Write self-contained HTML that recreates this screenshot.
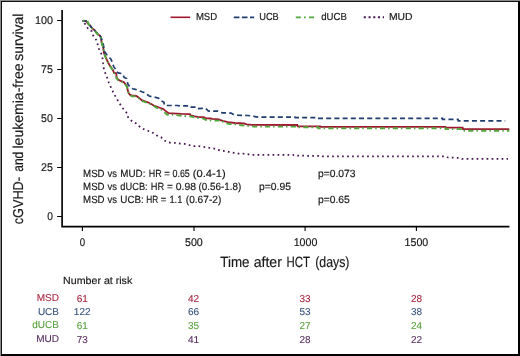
<!DOCTYPE html>
<html><head><meta charset="utf-8"><style>
html,body{margin:0;padding:0;background:#fff;font-family:"Liberation Sans",sans-serif;}
.frame{position:relative;width:520px;height:356px;box-sizing:border-box;overflow:hidden;background:#fff;}
.frame svg{position:absolute;left:0;top:0;will-change:transform;text-rendering:geometricPrecision;}
</style></head><body><div class="frame">
<svg width="520" height="356" viewBox="0 0 520 356" font-family="'Liberation Sans', sans-serif">
<rect x="0" y="0" width="520" height="356" fill="#fff"/>
<path d="M62.1,10.1 V226.6 H509.4" fill="none" stroke="#000" stroke-width="1.65"/>
<line x1="57.2" y1="20.5" x2="62" y2="20.5" stroke="#000" stroke-width="1.0"/>
<line x1="57.2" y1="69.5" x2="62" y2="69.5" stroke="#000" stroke-width="1.0"/>
<line x1="57.2" y1="118.5" x2="62" y2="118.5" stroke="#000" stroke-width="1.0"/>
<line x1="57.2" y1="167.5" x2="62" y2="167.5" stroke="#000" stroke-width="1.0"/>
<line x1="57.2" y1="216.5" x2="62" y2="216.5" stroke="#000" stroke-width="1.0"/>
<line x1="82.4" y1="226.6" x2="82.4" y2="230.9" stroke="#000" stroke-width="1.1"/>
<line x1="194.0" y1="226.6" x2="194.0" y2="230.9" stroke="#000" stroke-width="1.1"/>
<line x1="305.1" y1="226.6" x2="305.1" y2="230.9" stroke="#000" stroke-width="1.1"/>
<line x1="416.4" y1="226.6" x2="416.4" y2="230.9" stroke="#000" stroke-width="1.1"/>
<text x="35.00" y="24.05" font-size="11.2" fill="#1a1a1a" stroke="#1a1a1a" stroke-width="0.18" textLength="17.91" lengthAdjust="spacingAndGlyphs">100</text>
<text x="41.10" y="73.05" font-size="11.2" fill="#1a1a1a" stroke="#1a1a1a" stroke-width="0.18" textLength="11.80" lengthAdjust="spacingAndGlyphs">75</text>
<text x="41.10" y="122.05" font-size="11.2" fill="#1a1a1a" stroke="#1a1a1a" stroke-width="0.18" textLength="11.80" lengthAdjust="spacingAndGlyphs">50</text>
<text x="41.00" y="171.05" font-size="11.2" fill="#1a1a1a" stroke="#1a1a1a" stroke-width="0.18" textLength="11.90" lengthAdjust="spacingAndGlyphs">25</text>
<text x="47.20" y="220.05" font-size="11.2" fill="#1a1a1a" stroke="#1a1a1a" stroke-width="0.18" textLength="5.70" lengthAdjust="spacingAndGlyphs">0</text>
<text x="79.80" y="245.9" font-size="11.2" fill="#1a1a1a" stroke="#1a1a1a" stroke-width="0.18" textLength="5.40" lengthAdjust="spacingAndGlyphs">0</text>
<text x="185.00" y="245.9" font-size="11.2" fill="#1a1a1a" stroke="#1a1a1a" stroke-width="0.18" textLength="17.81" lengthAdjust="spacingAndGlyphs">500</text>
<text x="293.70" y="245.9" font-size="11.2" fill="#1a1a1a" stroke="#1a1a1a" stroke-width="0.18" textLength="23.70" lengthAdjust="spacingAndGlyphs">1000</text>
<text x="404.60" y="245.9" font-size="11.2" fill="#1a1a1a" stroke="#1a1a1a" stroke-width="0.18" textLength="23.70" lengthAdjust="spacingAndGlyphs">1500</text>
<text x="220.30" y="266.8" font-size="14.8" fill="#1a1a1a" stroke="#1a1a1a" stroke-width="0.18" textLength="29.20" lengthAdjust="spacingAndGlyphs">Time</text>
<text x="253.70" y="266.8" font-size="14.8" fill="#1a1a1a" stroke="#1a1a1a" stroke-width="0.18" textLength="28.20" lengthAdjust="spacingAndGlyphs">after</text>
<text x="286.50" y="266.8" font-size="14.8" fill="#1a1a1a" stroke="#1a1a1a" stroke-width="0.18" textLength="23.50" lengthAdjust="spacingAndGlyphs">HCT</text>
<text x="315.20" y="266.8" font-size="14.8" fill="#1a1a1a" stroke="#1a1a1a" stroke-width="0.18" textLength="34.30" lengthAdjust="spacingAndGlyphs">(days)</text>
<g transform="translate(23.1,224.5) rotate(-90)"><text x="0.20" y="0" font-size="14.3" fill="#1a1a1a" stroke="#1a1a1a" stroke-width="0.18" textLength="47.30" lengthAdjust="spacingAndGlyphs">cGVHD-</text><text x="52.70" y="0" font-size="14.3" fill="#1a1a1a" stroke="#1a1a1a" stroke-width="0.18" textLength="20.11" lengthAdjust="spacingAndGlyphs">and</text><text x="76.00" y="0" font-size="14.3" fill="#1a1a1a" stroke="#1a1a1a" stroke-width="0.18" textLength="85.00" lengthAdjust="spacingAndGlyphs">leukemia-free</text><text x="163.70" y="0" font-size="14.3" fill="#1a1a1a" stroke="#1a1a1a" stroke-width="0.18" textLength="47.20" lengthAdjust="spacingAndGlyphs">survival</text></g>
<polyline points="82.5,20.8 86.0,20.8 88.0,23.7 90.0,25.4 92.1,28.1 94.5,30.1 96.2,32.5 97.9,34.2 100.2,35.8 100.9,38.0 101.8,43.6 103.1,46.5 103.5,49.5 103.9,52.8 105.2,56.2 106.4,58.7 107.7,61.8 109.8,65.6 111.9,68.5 113.2,70.6 114.0,72.7 116.3,73.4 116.6,77.8 118.6,79.9 121.2,81.2 123.7,82.0 125.4,84.1 127.1,86.6 127.5,89.3 128.5,92.6 129.8,94.7 132.3,95.6 135.3,95.6 137.0,96.4 139.5,98.1 141.6,100.2 144.5,101.1 147.9,102.3 151.3,104.0 154.5,105.9 157.9,107.2 160.4,108.0 163.0,108.8 164.6,110.1 166.3,111.4 167.6,112.6 168.4,113.1 181.5,113.9 190.0,114.2 190.8,115.4 193.8,116.2 198.5,117.1 203.8,117.1 205.4,118.1 210.8,118.5 212.3,118.8 219.0,119.3 220.5,120.2 222.7,120.9 228.0,122.2 234.8,123.0 244.2,123.5 246.5,124.4 252.3,124.9 297.3,125.0 297.6,126.3 320.2,126.3 320.5,126.8 445.4,126.8 445.7,127.7 462.7,127.7 463.0,129.1 509.3,129.1" fill="none" stroke="#9e1830" stroke-width="1.8"/>
<polyline points="82.5,20.8 86.0,21.0 88.0,23.7 90.0,25.6 92.1,28.1 94.5,30.1 96.2,32.5 98.2,33.5 100.5,36.4 101.5,38.5 103.5,45.3 103.9,48.6 104.3,51.2 106.4,54.1 107.7,56.2 110.6,58.7 111.5,60.4 112.7,63.9 113.6,66.4 115.7,69.4 116.5,71.9 119.0,73.2 122.4,73.6 124.1,77.4 126.6,78.6 127.5,82.4 128.1,84.6 130.6,87.6 132.7,88.8 135.3,89.3 138.6,90.5 142.0,91.8 144.5,92.6 147.5,94.7 149.2,96.0 152.1,96.8 154.5,97.1 158.7,98.3 160.4,100.4 163.8,102.1 164.6,105.5 177.3,105.5 180.0,105.8 190.5,105.8 191.2,107.1 196.8,107.1 197.7,108.6 205.8,108.4 207.8,110.6 209.0,111.2 217.8,111.2 219.5,112.2 222.6,112.8 231.1,113.1 233.4,114.4 237.2,115.2 247.2,115.5 252.6,115.9 254.9,116.7 258.0,117.1 295.0,117.1 295.3,117.6 316.5,117.6 316.8,118.4 442.5,118.4 442.8,119.4 458.0,119.4 458.3,120.8 505.2,120.8" fill="none" stroke="#1f3d6e" stroke-width="1.7" stroke-dasharray="5,3.2" stroke-dashoffset="0.65"/>
<polyline points="82.5,20.8 87.4,20.8 88.4,23.9 90.3,25.8 92.4,28.5 94.8,30.5 96.5,32.9 98.2,34.8 100.4,36.5 101.1,38.6 102.0,44.2 103.3,47.1 103.7,50.1 104.1,53.4 105.4,56.8 106.6,59.3 107.9,62.4 110.0,66.2 112.1,69.1 113.4,71.2 114.2,73.3 116.1,74.0 116.6,78.4 118.6,80.5 121.2,81.8 123.7,82.6 125.4,84.7 127.1,87.2 127.6,89.9 128.6,93.2 129.9,95.3 132.3,96.3 135.3,96.4 137.0,97.1 139.5,98.8 141.6,100.9 144.5,101.8 147.9,103.0 150.5,104.2 152.8,105.1 156.2,107.6 160.4,108.8 163.8,111.8 167.2,114.7 173.1,114.7 179.8,115.6 187.7,116.2 191.5,116.5 195.4,117.7 203.1,118.5 206.2,120.0 213.1,120.6 221.8,120.6 224.2,122.8 229.5,124.0 236.5,124.4 241.1,125.2 247.2,125.9 254.2,126.6 297.3,126.6 297.6,127.2 318.0,127.2 318.3,128.2 445.4,128.2 445.7,129.1 462.7,129.1 463.0,130.7 509.3,130.7" fill="none" stroke="#4ea83a" stroke-width="1.9" stroke-dasharray="5.2,3,1.5,3.2" stroke-dashoffset="7.79"/>
<polyline points="82.7,20.9 85.5,24.5 86.7,26.4 88.4,29.5 91.8,31.2 92.8,34.9 94.8,37.9 96.5,40.3 97.7,44.5 98.8,48.6 100.5,51.6 101.8,55.0 102.6,58.7 103.1,63.4 104.0,70.0 106.4,75.7 107.7,79.5 108.9,82.9 110.2,85.8 111.7,89.2 114.7,95.1 118.6,102.0 122.5,107.9 126.9,113.1 128.0,117.0 130.3,119.8 133.0,122.0 136.3,123.5 138.9,126.0 141.7,128.0 144.9,129.9 148.5,131.0 152.1,132.2 155.0,134.7 158.0,135.9 161.2,137.3 163.5,140.0 166.9,141.9 170.8,142.8 175.8,142.8 180.0,143.6 184.5,143.9 188.3,144.6 191.7,146.0 197.2,146.0 201.3,146.6 206.1,147.1 210.0,148.0 214.1,148.5 217.9,149.8 221.2,150.9 226.0,151.1 229.8,152.1 234.3,152.8 238.3,153.6 243.1,153.7 247.5,154.0 250.5,154.9 293.0,154.9 294.0,155.7 320.5,155.8 321.5,156.4 446.0,156.4 448.0,157.5 459.6,157.9 462.0,158.9 508.0,158.9" fill="none" stroke="#461650" stroke-width="1.75" stroke-dasharray="1.7,3.3" stroke-dashoffset="2.18"/>
<line x1="170.5" y1="17.3" x2="190.2" y2="17.3" stroke="#9e1830" stroke-width="1.6"/>
<text x="195.90" y="20.4" font-size="10.2" fill="#1a1a1a" stroke="#1a1a1a" stroke-width="0.18" textLength="21.30" lengthAdjust="spacingAndGlyphs">MSD</text>
<line x1="233.8" y1="17.4" x2="254.2" y2="17.4" stroke="#1f3d6e" stroke-width="1.8" stroke-dasharray="5.6,2.5"/>
<text x="259.20" y="20.4" font-size="10.2" fill="#1a1a1a" stroke="#1a1a1a" stroke-width="0.18" textLength="19.60" lengthAdjust="spacingAndGlyphs">UCB</text>
<line x1="295.8" y1="17.4" x2="314" y2="17.4" stroke="#4ea83a" stroke-width="1.6" stroke-dasharray="5,3.2,1.8,3.2"/>
<text x="321.20" y="20.4" font-size="10.2" fill="#1a1a1a" stroke="#1a1a1a" stroke-width="0.18" textLength="25.70" lengthAdjust="spacingAndGlyphs">dUCB</text>
<line x1="363.8" y1="17.2" x2="384" y2="17.2" stroke="#461650" stroke-width="2" stroke-dasharray="2,2.75"/>
<text x="388.90" y="20.4" font-size="10.2" fill="#1a1a1a" stroke="#1a1a1a" stroke-width="0.18" textLength="23.60" lengthAdjust="spacingAndGlyphs">MUD</text>
<text x="83.10" y="176.5" font-size="10.4" fill="#1a1a1a" stroke="#1a1a1a" stroke-width="0.18" textLength="21.50" lengthAdjust="spacingAndGlyphs">MSD</text>
<text x="107.40" y="176.5" font-size="10.4" fill="#1a1a1a" stroke="#1a1a1a" stroke-width="0.18" textLength="9.50" lengthAdjust="spacingAndGlyphs">vs</text>
<text x="120.30" y="176.5" font-size="10.4" fill="#1a1a1a" stroke="#1a1a1a" stroke-width="0.18" textLength="25.10" lengthAdjust="spacingAndGlyphs">MUD:</text>
<text x="148.70" y="176.5" font-size="10.4" fill="#1a1a1a" stroke="#1a1a1a" stroke-width="0.18" textLength="12.90" lengthAdjust="spacingAndGlyphs">HR</text>
<text x="164.20" y="176.5" font-size="10.4" fill="#1a1a1a" stroke="#1a1a1a" stroke-width="0.18" textLength="5.60" lengthAdjust="spacingAndGlyphs">=</text>
<text x="172.50" y="176.5" font-size="10.4" fill="#1a1a1a" stroke="#1a1a1a" stroke-width="0.18" textLength="17.30" lengthAdjust="spacingAndGlyphs">0.65</text>
<text x="192.80" y="176.5" font-size="10.4" fill="#1a1a1a" stroke="#1a1a1a" stroke-width="0.18" textLength="32.80" lengthAdjust="spacingAndGlyphs">(0.4-1)</text>
<text x="83.10" y="189.8" font-size="10.4" fill="#1a1a1a" stroke="#1a1a1a" stroke-width="0.18" textLength="21.50" lengthAdjust="spacingAndGlyphs">MSD</text>
<text x="107.40" y="189.8" font-size="10.4" fill="#1a1a1a" stroke="#1a1a1a" stroke-width="0.18" textLength="9.50" lengthAdjust="spacingAndGlyphs">vs</text>
<text x="120.30" y="189.8" font-size="10.4" fill="#1a1a1a" stroke="#1a1a1a" stroke-width="0.18" textLength="27.40" lengthAdjust="spacingAndGlyphs">dUCB:</text>
<text x="150.80" y="189.8" font-size="10.4" fill="#1a1a1a" stroke="#1a1a1a" stroke-width="0.18" textLength="13.40" lengthAdjust="spacingAndGlyphs">HR</text>
<text x="167.10" y="189.8" font-size="10.4" fill="#1a1a1a" stroke="#1a1a1a" stroke-width="0.18" textLength="5.80" lengthAdjust="spacingAndGlyphs">=</text>
<text x="175.80" y="189.8" font-size="10.4" fill="#1a1a1a" stroke="#1a1a1a" stroke-width="0.18" textLength="20.20" lengthAdjust="spacingAndGlyphs">0.98</text>
<text x="198.50" y="189.8" font-size="10.4" fill="#1a1a1a" stroke="#1a1a1a" stroke-width="0.18" textLength="42.70" lengthAdjust="spacingAndGlyphs">(0.56-1.8)</text>
<text x="83.10" y="203.2" font-size="10.4" fill="#1a1a1a" stroke="#1a1a1a" stroke-width="0.18" textLength="21.50" lengthAdjust="spacingAndGlyphs">MSD</text>
<text x="107.40" y="203.2" font-size="10.4" fill="#1a1a1a" stroke="#1a1a1a" stroke-width="0.18" textLength="9.50" lengthAdjust="spacingAndGlyphs">vs</text>
<text x="120.30" y="203.2" font-size="10.4" fill="#1a1a1a" stroke="#1a1a1a" stroke-width="0.18" textLength="23.50" lengthAdjust="spacingAndGlyphs">UCB:</text>
<text x="146.30" y="203.2" font-size="10.4" fill="#1a1a1a" stroke="#1a1a1a" stroke-width="0.18" textLength="12.00" lengthAdjust="spacingAndGlyphs">HR</text>
<text x="160.80" y="203.2" font-size="10.4" fill="#1a1a1a" stroke="#1a1a1a" stroke-width="0.18" textLength="5.50" lengthAdjust="spacingAndGlyphs">=</text>
<text x="169.40" y="203.2" font-size="10.4" fill="#1a1a1a" stroke="#1a1a1a" stroke-width="0.18" textLength="13.00" lengthAdjust="spacingAndGlyphs">1.1</text>
<text x="185.80" y="203.2" font-size="10.4" fill="#1a1a1a" stroke="#1a1a1a" stroke-width="0.18" textLength="35.49" lengthAdjust="spacingAndGlyphs">(0.67-2)</text>
<text x="318.00" y="176.5" font-size="10.4" fill="#1a1a1a" stroke="#1a1a1a" stroke-width="0.18" textLength="37.60" lengthAdjust="spacingAndGlyphs">p=0.073</text>
<text x="259.10" y="189.9" font-size="10.4" fill="#1a1a1a" stroke="#1a1a1a" stroke-width="0.18" textLength="31.90" lengthAdjust="spacingAndGlyphs">p=0.95</text>
<text x="318.00" y="203.2" font-size="10.4" fill="#1a1a1a" stroke="#1a1a1a" stroke-width="0.18" textLength="31.80" lengthAdjust="spacingAndGlyphs">p=0.65</text>
<text x="63.10" y="284.0" font-size="10.3" fill="#1a1a1a" stroke="#1a1a1a" stroke-width="0.18" textLength="69.17" lengthAdjust="spacingAndGlyphs">Number at risk</text>
<text x="59" y="301.2" font-size="10.0" fill="#a4233b" stroke="#a4233b" stroke-width="0.1" text-anchor="end" >MSD</text>
<text x="82.2" y="301.5" font-size="10.0" fill="#a4233b" stroke="#a4233b" stroke-width="0.1" text-anchor="middle" >61</text>
<text x="193.6" y="301.5" font-size="10.0" fill="#a4233b" stroke="#a4233b" stroke-width="0.1" text-anchor="middle" >42</text>
<text x="305.0" y="301.5" font-size="10.0" fill="#a4233b" stroke="#a4233b" stroke-width="0.1" text-anchor="middle" >33</text>
<text x="416.5" y="301.5" font-size="10.0" fill="#a4233b" stroke="#a4233b" stroke-width="0.1" text-anchor="middle" >28</text>
<text x="59" y="314.7" font-size="10.0" fill="#34507e" stroke="#34507e" stroke-width="0.1" text-anchor="end" >UCB</text>
<text x="82.2" y="315.0" font-size="10.0" fill="#34507e" stroke="#34507e" stroke-width="0.1" text-anchor="middle" >122</text>
<text x="193.6" y="315.0" font-size="10.0" fill="#34507e" stroke="#34507e" stroke-width="0.1" text-anchor="middle" >66</text>
<text x="305.0" y="315.0" font-size="10.0" fill="#34507e" stroke="#34507e" stroke-width="0.1" text-anchor="middle" >53</text>
<text x="416.5" y="315.0" font-size="10.0" fill="#34507e" stroke="#34507e" stroke-width="0.1" text-anchor="middle" >38</text>
<text x="59" y="328.3" font-size="10.0" fill="#56a03c" stroke="#56a03c" stroke-width="0.1" text-anchor="end" >dUCB</text>
<text x="82.2" y="328.6" font-size="10.0" fill="#56a03c" stroke="#56a03c" stroke-width="0.1" text-anchor="middle" >61</text>
<text x="193.6" y="328.6" font-size="10.0" fill="#56a03c" stroke="#56a03c" stroke-width="0.1" text-anchor="middle" >35</text>
<text x="305.0" y="328.6" font-size="10.0" fill="#56a03c" stroke="#56a03c" stroke-width="0.1" text-anchor="middle" >27</text>
<text x="416.5" y="328.6" font-size="10.0" fill="#56a03c" stroke="#56a03c" stroke-width="0.1" text-anchor="middle" >24</text>
<text x="59" y="342.3" font-size="10.0" fill="#56295f" stroke="#56295f" stroke-width="0.1" text-anchor="end" >MUD</text>
<text x="82.2" y="342.6" font-size="10.0" fill="#56295f" stroke="#56295f" stroke-width="0.1" text-anchor="middle" >73</text>
<text x="193.6" y="342.6" font-size="10.0" fill="#56295f" stroke="#56295f" stroke-width="0.1" text-anchor="middle" >41</text>
<text x="305.0" y="342.6" font-size="10.0" fill="#56295f" stroke="#56295f" stroke-width="0.1" text-anchor="middle" >28</text>
<text x="416.5" y="342.6" font-size="10.0" fill="#56295f" stroke="#56295f" stroke-width="0.1" text-anchor="middle" >22</text>
<rect x="0" y="0" width="520" height="1" fill="#8c8c8c"/>
<rect x="0" y="0" width="1" height="356" fill="#8c8c8c"/>
<rect x="1" y="1" width="519" height="1" fill="#111"/>
<rect x="1" y="1" width="1" height="355" fill="#111"/>
<rect x="518" y="1" width="2" height="355" fill="#000"/>
<rect x="1" y="354" width="519" height="2" fill="#000"/>
</svg></div></body></html>
